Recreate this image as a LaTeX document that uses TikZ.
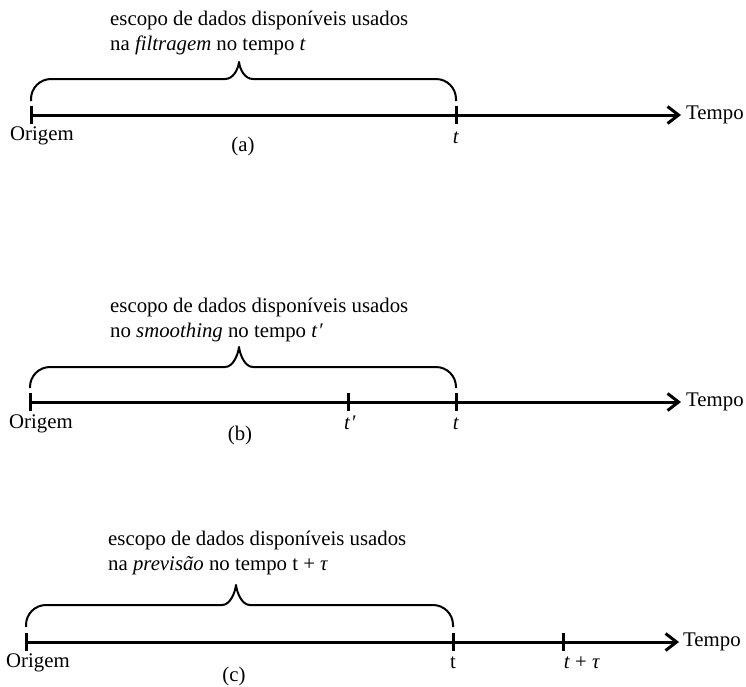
\documentclass[tikz,border=0pt]{standalone}
\usepackage{fontspec}
\setmainfont{Liberation Serif}
\usetikzlibrary{arrows.meta}
\tikzset{
  axisline/.style={line width=3pt,-{Straight Barb[length=11pt,width=17pt,line width=3pt]}},
  tickline/.style={line width=3pt},
  bracepath/.style={line width=2pt,line join=round},
  txt/.style={inner sep=0pt,font=\fontsize{20.8}{25}\selectfont},
  lbl/.style={txt,anchor=base}
}
% \timebrace{x0}{x1}{xm}{yend}{ytop}{ytip}
\newcommand{\timebrace}[6]{%
  \draw[bracepath] (#1,#4) -- (#1,#5+20)
    .. controls (#1,#5+9) and (#1+9,#5) .. (#1+20,#5)
    -- (#3-14,#5) .. controls (#3-6,#5) and (#3-1,#6+8) .. (#3,#6)
    .. controls (#3+1,#6+8) and (#3+6,#5) .. (#3+14,#5)
    -- (#2-20,#5) .. controls (#2-9,#5) and (#2,#5+9) .. (#2,#5+20) -- (#2,#4);}
\begin{document}
\begin{tikzpicture}[x=1pt,y=-1pt]
\useasboundingbox (0,0) rectangle (746,686);
% ---------- (a)
\coordinate (a0) at (31,115);
\coordinate (aE) at (681,115);
\draw[axisline] (a0) -- (aE);
\draw[tickline] (31,106) -- (31,124);
\draw[tickline] (456,106) -- (456,124);
\timebrace{31}{456}{239}{101}{79}{62}
\node[txt,anchor=base west] (atx1) at (110,25) {escopo de dados disponíveis usados};
\node[txt,anchor=base west] (atx2) at (110,50) {na \textit{filtragem} no tempo \textit{t}};
\node[txt,anchor=base west] (atempo) at (686,119) {Tempo};
\node[lbl] (aorig) at (42,140) {Origem};
\node[lbl] (alab) at (243,151) {(a)};
\node[lbl] (atl) at (456,143) {\textit{t}};
% ---------- (b)
\coordinate (b0) at (30,402);
\coordinate (bE) at (681,402);
\draw[axisline] (b0) -- (bE);
\draw[tickline] (30,393) -- (30,411);
\draw[tickline] (348,393) -- (348,411);
\draw[tickline] (456,393) -- (456,411);
\timebrace{30}{456}{239}{388}{367}{347}
\node[txt,anchor=base west] (btx1) at (110,312) {escopo de dados disponíveis usados};
\node[txt,anchor=base west] (btx2) at (110,337) {no \textit{smoothing} no tempo \textit{t\kern1pt′}};
\node[txt,anchor=base west] (btempo) at (686,406) {Tempo};
\node[lbl] (borig) at (41,428) {Origem};
\node[lbl] (blab) at (240,440) {(b)};
\node[lbl] (btpl) at (350,429) {\textit{t\kern1pt′}};
\node[lbl] (btl) at (456,429) {\textit{t}};
% ---------- (c)
\coordinate (c0) at (26,642);
\coordinate (cE) at (679,642);
\draw[axisline] (c0) -- (cE);
\draw[tickline] (26,633) -- (26,651);
\draw[tickline] (453,633) -- (453,651);
\draw[tickline] (563,633) -- (563,651);
\timebrace{26}{453}{236}{627}{605}{585}
\node[txt,anchor=base west] (ctx1) at (108,545) {escopo de dados disponíveis usados};
\node[txt,anchor=base west] (ctx2) at (108,570) {na \textit{previsão} no tempo t + \textit{τ}};
\node[txt,anchor=base west] (ctempo) at (683,646) {Tempo};
\node[lbl] (corig) at (38,667) {Origem};
\node[lbl] (clab) at (234,681) {(c)};
\node[lbl] (ctl) at (453,668) {t};
\node[lbl] (ctt) at (582,668) {\textit{t} + \textit{τ}};
\end{tikzpicture}
\end{document}
